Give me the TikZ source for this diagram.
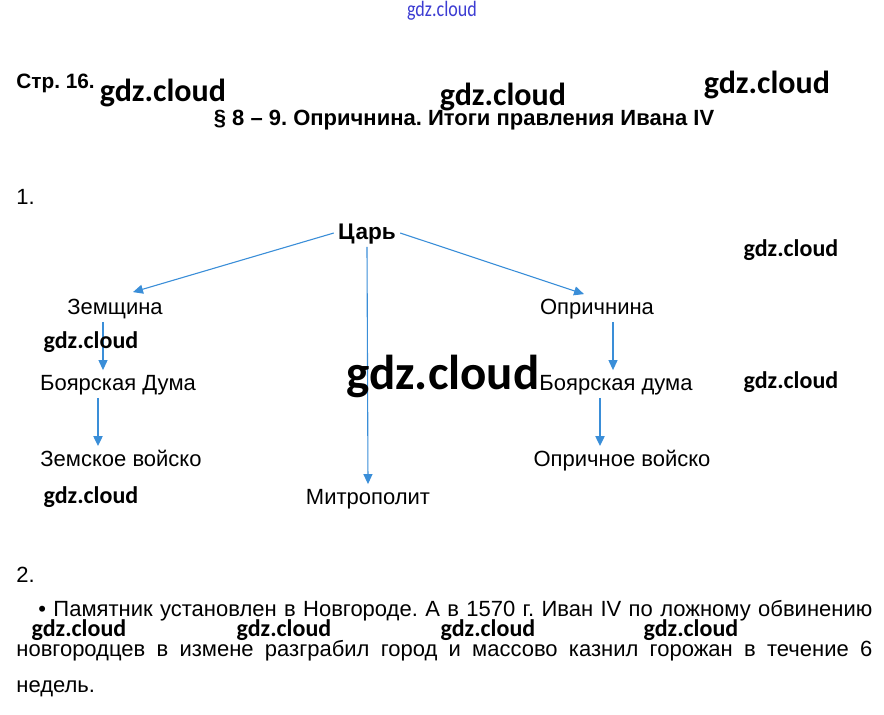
\documentclass[tikz,border=0pt]{standalone}
\usepackage{fontspec}
\setmainfont{Liberation Sans}
\newfontfamily\wmfont{Carlito}
\newfontfamily\wmnarrow[FakeStretch=0.82]{Carlito}
\usetikzlibrary{arrows.meta,calc}
\definecolor{arrblue}{RGB}{58,142,216}
\definecolor{wmblue}{RGB}{60,60,210}
\frenchspacing

\begin{document}
\begin{tikzpicture}[x=0.5pt,y=-0.5pt,
    box/.style={font=\fontsize{11}{13}\selectfont, inner sep=2pt, text height=1.5ex, text depth=0.3ex},
    txt/.style={anchor=west, inner sep=0pt, font=\fontsize{11}{13}\selectfont},
    arr/.style={draw=arrblue, line width=0.55pt, -{Triangle[length=5pt,width=4.5pt]}},
    arrthick/.style={arr, line width=1pt},
    wm/.style={font=\wmfont\bfseries\fontsize{16}{18}\selectfont, inner sep=0pt},
    wmsmall/.style={font=\wmfont\bfseries\fontsize{12}{14}\selectfont, inner sep=0pt}]
    % Fixed Bounding Box, one unit = one pixel of the page
    \useasboundingbox (0,0) rectangle (884,714);

    % Page header
    \node[txt, font=\bfseries\fontsize{10.4}{12}\selectfont] (page) at (16,83) {Стр. 16.};
    \node[inner sep=0pt, font=\bfseries\fontsize{11}{13}\selectfont] (title) at (464,120) {§ 8 – 9. Опричнина. Итоги правления Ивана IV};

    % Task 1: scheme
    \node[txt] (one) at (16,197) {1.};
    \node[box, font=\bfseries\fontsize{11.3}{13}\selectfont] (tsar) at (367,233) {Царь};
    \node[box] (zemsh) at (115,308) {Земщина};
    \node[box] (oprich) at (597,308) {Опричнина};
    \node[box] (duma1) at (118,384) {Боярская Дума};
    \node[box] (duma2) at (616,384) {Боярская дума};
    \node[box] (voisko1) at (121,460) {Земское войско};
    \node[box] (voisko2) at (622,460) {Опричное войско};
    \node[box] (mitr) at (368,498) {Митрополит};

    \draw[arr] (tsar.west) -- ($(zemsh.north)+(18,-2)$);
    \draw[arr] (tsar.east) -- ($(oprich.north)+(-13,0)$);
    \draw[arr] (tsar.south) -- (mitr.north);
    \draw[arr] ([xshift=-6]zemsh.south) -- ([xshift=-6]zemsh.south |- duma1.north);
    \draw[arrthick] ([xshift=-10]duma1.south) -- ([xshift=-10]duma1.south |- voisko1.north);
    \draw[arr] ([xshift=8]oprich.south) -- ([xshift=8]oprich.south |- duma2.north);
    \draw[arrthick] ([xshift=-8]duma2.south) -- ([xshift=-8]duma2.south |- voisko2.north);

    % Task 2: text
    \node[txt] (two) at (16,575) {2.};
    \node[txt] (line1) at (38,611)
        {\makebox[417pt][s]{• Памятник установлен в Новгороде. А в 1570 г. Иван IV по ложному обвинению}};
    \node[txt] (line2) at (16,651)
        {\makebox[428pt][s]{новгородцев в измене разграбил город и массово казнил горожан в течение 6}};
    \node[txt] (line3) at (16,689) {недель.};

    % Watermarks
    \node[inner sep=0pt, text=wmblue, font=\wmnarrow\fontsize{11}{13}\selectfont] (wmtop) at (442,11) {gdz.cloud};
    \node[wm] (wm1) at (163,93) {gdz.cloud};
    \node[wm] (wm2) at (503,97) {gdz.cloud};
    \node[wm] (wm3) at (767,85) {gdz.cloud};
    \node[wmsmall] (wm4) at (791,250) {gdz.cloud};
    \node[wmsmall] (wm5) at (91,342) {gdz.cloud};
    \node[inner sep=0pt, font=\wmfont\bfseries\fontsize{24.5}{28}\selectfont] (wm6) at (443,376) {gdz.cloud};
    \node[wmsmall] (wm7) at (791,382) {gdz.cloud};
    \node[wmsmall] (wm8) at (91,497) {gdz.cloud};
    \foreach \wx [count=\i] in {79,284,488,691}
        \node[wmsmall] (wmb\i) at (\wx,630) {gdz.cloud};
\end{tikzpicture}
\end{document}
